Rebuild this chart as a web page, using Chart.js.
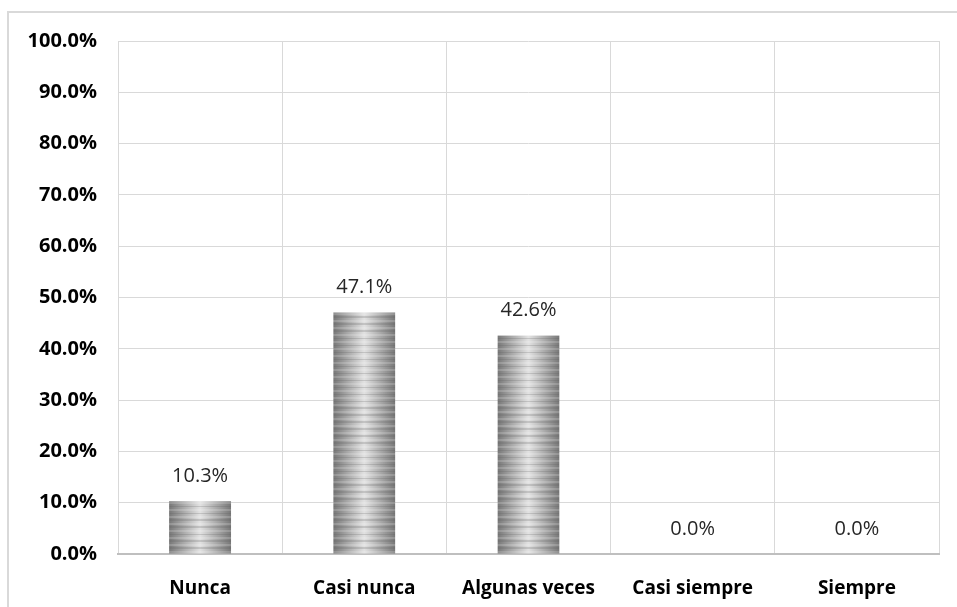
<!DOCTYPE html>
<html>
<head>
<meta charset="utf-8">
<script src="https://cdn.jsdelivr.net/npm/chart.js@4/dist/chart.umd.min.js"></script>
<style>
  html, body { margin: 0; padding: 0; background: #ffffff; overflow: hidden; }
  #frame {
    position: absolute; left: 7px; top: 11px; width: 980px; height: 640px;
    border: 2px solid #d9d9d9; box-sizing: border-box;
  }
  #wrap { position: absolute; left: 0; top: 0; width: 957px; height: 607px; }
</style>
</head>
<body>
<div id="frame"></div>
<div id="wrap"><canvas id="chart" width="957" height="607"></canvas></div>
<script>
// Response categories and their share of answers (%)
const categories = ['Nunca', 'Casi nunca', 'Algunas veces', 'Casi siempre', 'Siempre'];
const percentages = [10.3, 47.1, 42.6, 0.0, 0.0];
const yTicks = [0, 10, 20, 30, 40, 50, 60, 70, 80, 90, 100];

const FONT = '"Open Sans", "Noto Sans", sans-serif';

// Striped grey fill: darker at the sides, light in the middle, with horizontal bands
function barFill(ctx) {
  const chart = ctx.chart;
  const xs = chart.scales.x;
  if (!xs || !chart.chartArea) return '#b0b0b0';
  const cat = (xs.right - xs.left) / categories.length;
  const w = Math.max(2, Math.round(cat * 0.38));
  const cx = xs.getPixelForValue(ctx.dataIndex);
  const left = cx - w / 2;
  const off = document.createElement('canvas');
  off.width = w; off.height = 7;
  const c = off.getContext('2d');
  const g = c.createLinearGradient(0, 0, w, 0);
  g.addColorStop(0, '#777777');
  g.addColorStop(0.5, '#e2e2e2');
  g.addColorStop(1, '#777777');
  c.fillStyle = g;
  c.fillRect(0, 0, w, 7);
  c.fillStyle = 'rgba(90,90,90,0.22)';
  c.fillRect(0, 0, w, 2);
  c.fillStyle = 'rgba(255,255,255,0.18)';
  c.fillRect(0, 4, w, 2);
  const pat = chart.ctx.createPattern(off, 'repeat-y');
  if (pat && pat.setTransform) {
    pat.setTransform(new DOMMatrix().translate(left, chart.chartArea.bottom));
  }
  return pat || '#b0b0b0';
}

// Value labels above each bar
const valueLabels = {
  id: 'valueLabels',
  afterDatasetsDraw(chart) {
    const ctx = chart.ctx;
    const meta = chart.getDatasetMeta(0);
    ctx.save();
    ctx.font = '20px ' + FONT;
    ctx.fillStyle = '#262626';
    ctx.textAlign = 'center';
    ctx.textBaseline = 'middle';
    meta.data.forEach((bar, i) => {
      ctx.fillText(percentages[i].toFixed(1) + '%', bar.x, bar.y - 25);
    });
    ctx.restore();
  }
};

new Chart(document.getElementById('chart'), {
  type: 'bar',
  data: {
    labels: categories,
    datasets: [{
      data: percentages,
      backgroundColor: barFill,
      borderWidth: 0,
      barPercentage: 0.38,
      categoryPercentage: 1.0
    }]
  },
  options: {
    responsive: false,
    animation: false,
    events: [],
    layout: { padding: { top: 41, right: 18, bottom: 0, left: 0 } },
    plugins: { legend: { display: false }, tooltip: { enabled: false } },
    scales: {
      x: {
        grid: { color: '#d9d9d9', lineWidth: 1, drawTicks: false, offset: true },
        border: { color: '#bfbfbf', width: 2 },
        ticks: { color: '#000000', padding: 23, font: { family: FONT, size: 19, weight: 'bold' } },
        afterFit(s) { s.height = 53; }
      },
      y: {
        min: 0, max: 100,
        afterBuildTicks(s) { s.ticks = yTicks.map(v => ({ value: v })); },
        grid: { color: '#d9d9d9', lineWidth: 1, drawTicks: false },
        border: { display: false },
        ticks: {
          color: '#000000', padding: 21,
          font: { family: FONT, size: 20, weight: 'bold' },
          callback: v => v.toFixed(1) + '%'
        },
        afterFit(s) { s.width = 118; }
      }
    }
  },
  plugins: [valueLabels]
});
</script>
</body>
</html>
